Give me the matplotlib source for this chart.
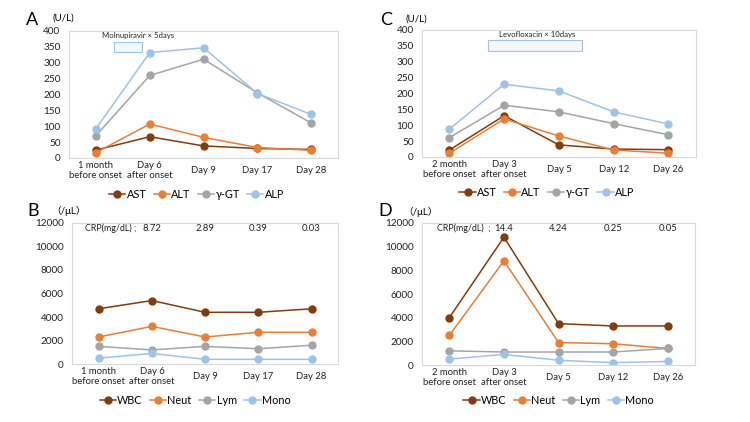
import matplotlib.pyplot as plt
from matplotlib.patches import Rectangle

plt.rcParams['font.family'] = ['Lato', 'Noto Sans CJK JP', 'DejaVu Sans']

# colours (Excel default-ish)
c_dark = "#843C0C"
c_orange = "#ED7D31"
c_gray = "#A5A5A5"
c_blue = "#9DC3E6"
frame_col = "#D9D9D9"

# data
days_a = ["1 month\nbefore onset", "Day 6\nafter onset", "Day 9", "Day 17", "Day 28"]
days_c = ["2 month\nbefore onset", "Day 3\nafter onset", "Day 5", "Day 12", "Day 26"]

ast_a = [25, 67, 38, 30, 27]
alt_a = [17, 107, 65, 33, 24]
ggt_a = [70, 260, 311, 205, 110]
alp_a = [92, 332, 347, 203, 137]

ast_c = [22, 130, 38, 25, 23]
alt_c = [12, 120, 66, 22, 12]
ggt_c = [61, 163, 142, 105, 70]
alp_c = [88, 229, 208, 142, 104]

wbc_b = [4700, 5400, 4400, 4400, 4700]
neut_b = [2300, 3200, 2300, 2700, 2700]
lym_b = [1500, 1200, 1500, 1300, 1600]
mono_b = [500, 900, 400, 400, 400]

wbc_d = [4000, 10800, 3500, 3300, 3300]
neut_d = [2500, 8800, 1900, 1800, 1400]
lym_d = [1200, 1100, 1100, 1100, 1400]
mono_d = [500, 900, 400, 200, 300]

crp_b = ["8.72", "2.89", "0.39", "0.03"]
crp_d = ["14.4", "4.24", "0.25", "0.05"]

liver_names = ["AST", "ALT", "γ-GT", "ALP"]
blood_names = ["WBC", "Neut", "Lym", "Mono"]
colours = [c_dark, c_orange, c_gray, c_blue]

fig = plt.figure(figsize=(7.5, 4.22), dpi=100)


def setup_axes(ax, labels, ymax, ystep):
    ax.set_xlim(-0.5, 4.5)
    ax.set_ylim(0, ymax)
    ax.set_yticks(range(0, ymax + 1, ystep))
    ax.set_xticks(range(len(labels)))
    ax.set_xticklabels(labels, fontsize=6.8, linespacing=1.1)
    for lab in ax.get_xticklabels():
        lab.set_va('center')
    ax.tick_params(axis='x', length=0, pad=9, colors='#222222')
    ax.tick_params(axis='y', length=0, pad=6, labelsize=7.2, colors='#222222')
    for sp in ax.spines.values():
        sp.set_color(frame_col)
        sp.set_linewidth(0.8)


def draw_lines(ax, series, names):
    hs = []
    for vals, col, name in zip(series, colours, names):
        h, = ax.plot(range(len(vals)), vals, color=col, marker='o', markersize=5,
                     linewidth=1.1, label=name)
        hs.append(h)
    return hs


def add_legend(handles, x, y):
    fig.legend(handles=handles, loc='center', bbox_to_anchor=(x, y), ncol=4, frameon=False,
               fontsize=7.8, handlelength=1.5, handletextpad=0.1, columnspacing=0.7,
               borderpad=0, borderaxespad=0)


# panel A
axA = fig.add_axes([0.092, 0.6256, 0.359, 0.301])
setup_axes(axA, days_a, 400, 50)
hA = draw_lines(axA, [ast_a, alt_a, ggt_a, alp_a], liver_names)
axA.add_patch(Rectangle((0.33, 334), 0.53, 31, facecolor='#F3F6FA', edgecolor=c_blue, linewidth=0.8, zorder=1))
axA.text(0.78, 387, "Molnupiravir × 5days", fontsize=5.6, ha='center', va='center', color='#222222')
fig.text(0.035, 0.953, "A", fontsize=13, ha='left', va='center')
fig.text(0.07, 0.957, "(U/L)", fontsize=7, ha='left', va='center')
add_legend(hA, 0.262, 0.54)

# panel C
axC = fig.add_axes([0.5627, 0.628, 0.365, 0.301])
setup_axes(axC, days_c, 400, 50)
hC = draw_lines(axC, [ast_c, alt_c, ggt_c, alp_c], liver_names)
axC.add_patch(Rectangle((0.71, 334), 1.72, 34, facecolor='#F3F6FA', edgecolor=c_blue, linewidth=0.8, zorder=1))
axC.text(1.6, 387, "Levofloxacin × 10days", fontsize=5.6, ha='center', va='center', color='#222222')
fig.text(0.507, 0.953, "C", fontsize=13, ha='left', va='center')
fig.text(0.54, 0.955, "(U/L)", fontsize=7, ha='left', va='center')
add_legend(hC, 0.729, 0.545)

# panel B
axB = fig.add_axes([0.096, 0.1374, 0.355, 0.3342])
setup_axes(axB, days_a, 12000, 2000)
hB = draw_lines(axB, [wbc_b, neut_b, lym_b, mono_b], blood_names)
axB.text(0.7, 11550, "CRP(mg/dL) ;", fontsize=6.4, ha='right', va='center', color='#222222')
for i, v in enumerate(crp_b):
    axB.text(i + 1, 11550, v, fontsize=6.8, ha='center', va='center', color='#222222')
fig.text(0.037, 0.5, "B", fontsize=13, ha='left', va='center')
fig.text(0.068, 0.5, "（/μL）", fontsize=7, ha='left', va='center')
add_legend(hB, 0.26, 0.052)

# panel D
axD = fig.add_axes([0.5627, 0.135, 0.364, 0.3366])
setup_axes(axD, days_c, 12000, 2000)
hD = draw_lines(axD, [wbc_d, neut_d, lym_d, mono_d], blood_names)
axD.text(0.75, 11550, "CRP(mg/dL)  ;", fontsize=6.4, ha='right', va='center', color='#222222')
for i, v in enumerate(crp_d):
    axD.text(i + 1, 11550, v, fontsize=6.8, ha='center', va='center', color='#222222')
fig.text(0.505, 0.5, "D", fontsize=13, ha='left', va='center')
fig.text(0.537, 0.498, "（/μL）", fontsize=7, ha='left', va='center')
add_legend(hD, 0.745, 0.052)

fig.savefig("out.png", dpi=100)
